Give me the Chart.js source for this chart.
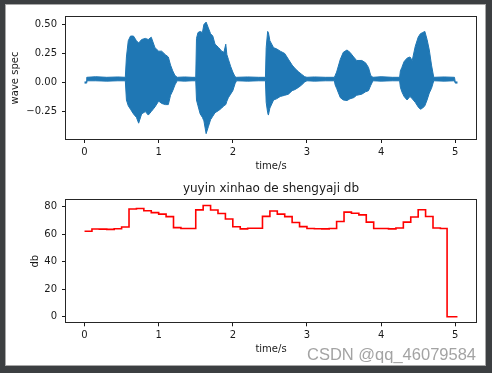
<!DOCTYPE html>
<html>
<head>
<meta charset="utf-8">
<script src="https://cdn.jsdelivr.net/npm/chart.js@4/dist/chart.umd.min.js"></script>
<style>
    body {
        margin: 0;
        width: 492px;
        height: 373px;
        background: #3c3f41;
        position: relative;
        overflow: hidden;
    }
    #panel {
        position: absolute;
        left: 5px;
        top: 4px;
        width: 479px;
        height: 360px;
        background: #fff;
        border: 1px solid #a8a8a8;
    }
    canvas {
        position: absolute;
        left: 0;
    }
    #waveChart { top: 0; }
    #dbChart { top: 178px; }
    #mark {
        position: absolute;
        left: 307px;
        top: 345px;
        font: 16.5px "Liberation Sans", Arial, sans-serif;
        color: #a3a3a3;
        white-space: nowrap;
    }
</style>
</head>
<body>
<div id="panel"></div>
<canvas id="waveChart" width="492" height="178"></canvas>
<canvas id="dbChart" width="492" height="195"></canvas>
<div id="mark">CSDN @qq_46079584</div>
<script>
// waveform envelope (seconds / amplitude)
const waveTimes = [0.00, 0.025, 0.03, 0.15, 0.30, 0.45, 0.55,
    0.565, 0.59, 0.62, 0.66, 0.70, 0.73, 0.77, 0.82, 0.86, 0.90, 0.95, 1.00, 1.04, 1.09, 1.13, 1.16, 1.19, 1.22, 1.25,
    1.35, 1.45, 1.50,
    1.51, 1.53, 1.56, 1.59, 1.61, 1.64, 1.67, 1.70, 1.73, 1.76, 1.81, 1.85, 1.88, 1.905, 1.92, 1.94, 1.97, 2.00, 2.03, 2.05,
    2.20, 2.35, 2.44,
    2.45, 2.47, 2.48, 2.50, 2.55, 2.59, 2.64, 2.70, 2.75, 2.80, 2.84, 2.89, 2.93, 2.97, 3.00,
    3.10, 3.25, 3.37,
    3.38, 3.40, 3.45, 3.49, 3.54, 3.58, 3.63, 3.67, 3.74, 3.79, 3.83, 3.86, 3.89,
    4.00, 4.15, 4.25,
    4.26, 4.28, 4.31, 4.35, 4.39, 4.42, 4.46, 4.50, 4.53, 4.56, 4.59, 4.62, 4.65, 4.68, 4.71,
    4.85, 4.99, 5.00, 5.03];
const waveUpper = [0.005, 0.005, 0.045, 0.05, 0.045, 0.048, 0.045,
    0.22, 0.36, 0.40, 0.40, 0.36, 0.34, 0.37, 0.38, 0.37, 0.39, 0.30, 0.27, 0.27, 0.24, 0.22, 0.15, 0.10, 0.06, 0.045,
    0.048, 0.045, 0.045,
    0.38, 0.43, 0.44, 0.43, 0.50, 0.52, 0.47, 0.42, 0.40, 0.33, 0.30, 0.27, 0.26, 0.33, 0.24, 0.20, 0.14, 0.09, 0.05, 0.045,
    0.048, 0.045, 0.045,
    0.30, 0.44, 0.43, 0.36, 0.30, 0.29, 0.27, 0.25, 0.20, 0.15, 0.12, 0.09, 0.07, 0.05, 0.045,
    0.048, 0.045, 0.045,
    0.06, 0.09, 0.20, 0.26, 0.28, 0.26, 0.22, 0.19, 0.19, 0.17, 0.13, 0.06, 0.045,
    0.05, 0.045, 0.045,
    0.10, 0.13, 0.18, 0.21, 0.22, 0.19, 0.31, 0.39, 0.42, 0.43, 0.44, 0.37, 0.28, 0.15, 0.045,
    0.048, 0.045, 0.005, 0.005];
const waveLower = [-0.005, -0.005, 0.015, 0.015, 0.012, 0.015, 0.015,
    -0.15, -0.20, -0.23, -0.27, -0.30, -0.35, -0.27, -0.25, -0.28, -0.25, -0.21, -0.16, -0.18, -0.19, -0.19, -0.11, -0.07, -0.02, 0.015,
    0.012, 0.015, 0.015,
    -0.15, -0.20, -0.27, -0.30, -0.33, -0.44, -0.38, -0.32, -0.29, -0.26, -0.24, -0.22, -0.20, -0.19, -0.16, -0.13, -0.10, -0.07, -0.01, 0.015,
    0.012, 0.015, 0.015,
    -0.17, -0.26, -0.28, -0.22, -0.15, -0.14, -0.12, -0.11, -0.10, -0.07, -0.06, -0.04, -0.02, 0.005, 0.015,
    0.012, 0.015, 0.015,
    -0.02, -0.05, -0.13, -0.15, -0.155, -0.14, -0.13, -0.11, -0.10, -0.08, -0.07, -0.025, 0.015,
    0.012, 0.015, 0.015,
    -0.04, -0.08, -0.12, -0.15, -0.12, -0.14, -0.17, -0.21, -0.23, -0.22, -0.20, -0.15, -0.09, -0.05, 0.015,
    0.012, 0.015, -0.005, -0.005];

// short-time sound pressure level, one value per 0.1 s frame
const frameTimes = [0.0, 0.1, 0.2, 0.3, 0.4, 0.5, 0.6, 0.7, 0.8, 0.9,
    1.0, 1.1, 1.2, 1.3, 1.4, 1.5, 1.6, 1.7, 1.8, 1.9,
    2.0, 2.1, 2.2, 2.3, 2.4, 2.5, 2.6, 2.7, 2.8, 2.9,
    3.0, 3.1, 3.2, 3.3, 3.4, 3.5, 3.6, 3.7, 3.8, 3.9,
    4.0, 4.1, 4.2, 4.3, 4.4, 4.5, 4.6, 4.7, 4.8, 4.89, 5.03];
const dbValues = [62.2, 63.9, 63.8, 63.6, 64.1, 65.3, 78.4, 78.8, 77.2, 75.8,
    74.7, 72.9, 64.9, 64.2, 64.3, 77.8, 81.0, 77.7, 75.2, 71.2,
    65.5, 64.0, 64.4, 64.4, 73.1, 77.0, 74.7, 72.9, 68.6, 65.6,
    64.2, 64.1, 64.0, 64.3, 69.3, 76.2, 75.3, 74.2, 68.9, 64.3,
    64.3, 64.0, 64.6, 68.9, 72.6, 77.9, 73.0, 64.6, 64.2, 0, 0];

const xTicks = [0, 1, 2, 3, 4, 5];
const waveTicks = [-0.25, 0, 0.25, 0.5];
const dbTicks = [0, 20, 40, 60, 80];

const font = { family: "'DejaVu Sans', sans-serif", size: 10 };
const ink = '#1a1a1a';

const frameBox = {
    id: 'frameBox',
    afterDraw(chart) {
        const a = chart.chartArea;
        const ctx = chart.ctx;
        ctx.save();
        ctx.strokeStyle = '#262626';
        ctx.lineWidth = 1;
        ctx.strokeRect(Math.round(a.left) - 0.5, Math.round(a.top) - 0.5,
            Math.round(a.right - a.left) + 1, Math.round(a.bottom - a.top) + 1);
        ctx.restore();
    }
};

const axisTitle = {
    id: 'axisTitle',
    afterDraw(chart, args, opts) {
        if (!opts.text) return;
        const a = chart.chartArea;
        const ctx = chart.ctx;
        ctx.save();
        ctx.font = "12px 'DejaVu Sans', sans-serif";
        ctx.fillStyle = ink;
        ctx.textAlign = 'center';
        ctx.textBaseline = 'middle';
        ctx.fillText(opts.text, (a.left + a.right) / 2, opts.y);
        ctx.restore();
    }
};

function fixedTicks(list) {
    return scale => { scale.ticks = list.map(v => ({ value: v })); };
}

function xScale(height, titleBottom) {
    return {
        type: 'linear',
        min: -0.25,
        max: 5.28,
        afterBuildTicks: fixedTicks(xTicks),
        afterFit: s => { s.height = height; },
        ticks: { font: font, color: ink, padding: 3, maxRotation: 0, callback: v => String(v) },
        grid: { drawOnChartArea: false, tickLength: 4, color: ink },
        border: { display: false },
        title: { display: true, text: 'time/s', font: font, color: ink, padding: { top: 4, bottom: titleBottom } }
    };
}

function yScale(min, max, list, label, titlePad, fmt) {
    return {
        type: 'linear',
        min: min,
        max: max,
        afterBuildTicks: fixedTicks(list),
        afterFit: s => { s.width = 66; },
        ticks: { font: font, color: ink, padding: 5, callback: fmt },
        grid: { drawOnChartArea: false, tickLength: 4, color: ink },
        border: { display: false },
        title: { display: true, text: label, font: font, color: ink, padding: { top: titlePad, bottom: 0 } }
    };
}

const common = {
    responsive: false,
    animation: false,
    devicePixelRatio: 1,
    events: [],
    plugins: { legend: { display: false }, tooltip: { enabled: false } }
};

new Chart(document.getElementById('waveChart'), {
    type: 'line',
    data: {
        datasets: [{
            data: waveTimes.map((t, i) => ({ x: t, y: waveUpper[i] })),
            borderColor: '#1f77b4',
            backgroundColor: '#1f77b4',
            borderWidth: 1,
            pointRadius: 0,
            fill: '+1'
        }, {
            data: waveTimes.map((t, i) => ({ x: t, y: waveLower[i] })),
            borderColor: '#1f77b4',
            borderWidth: 1,
            pointRadius: 0,
            fill: false
        }]
    },
    options: Object.assign({}, common, {
        layout: { padding: { left: 0, top: 17, right: 16, bottom: 0 } },
        scales: {
            x: xScale(39, 6),
            y: yScale(-0.486, 0.564, waveTicks, 'wave spec', 9, v => v.toFixed(2).replace('-', '\u2212'))
        }
    }),
    plugins: [frameBox]
});

new Chart(document.getElementById('dbChart'), {
    type: 'line',
    data: {
        datasets: [{
            data: frameTimes.map((t, i) => ({ x: t, y: dbValues[i] })),
            borderColor: '#ff0000',
            borderWidth: 1.6,
            pointRadius: 0,
            stepped: 'before',
            fill: false
        }]
    },
    options: Object.assign({}, common, {
        layout: { padding: { left: 0, top: 22, right: 16, bottom: 0 } },
        scales: {
            x: xScale(50.7, 18),
            y: yScale(-4.05, 85, dbTicks, 'db', 29, v => String(v))
        },
        plugins: {
            legend: { display: false },
            tooltip: { enabled: false },
            axisTitle: { text: 'yuyin xinhao de shengyaji db', y: 11 }
        }
    }),
    plugins: [frameBox, axisTitle]
});
</script>
</body>
</html>
